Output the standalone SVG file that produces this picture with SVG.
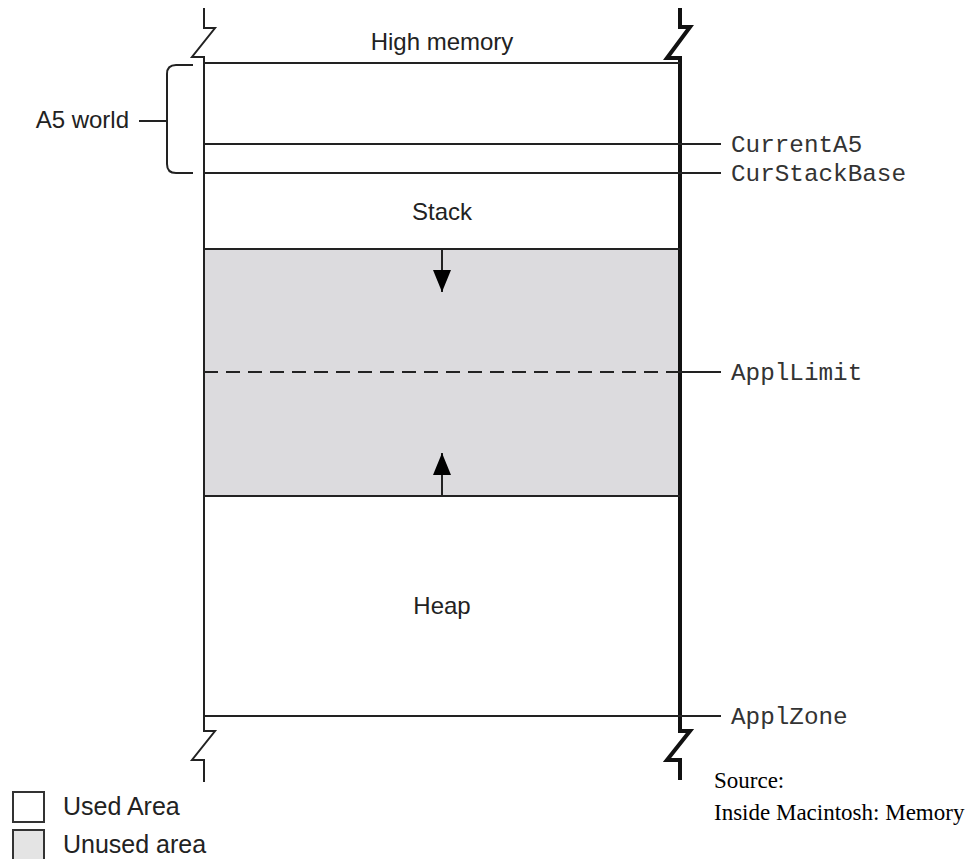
<svg xmlns="http://www.w3.org/2000/svg" width="976" height="859" viewBox="0 0 976 859">
  <defs>
    <style>
      .sans{font-family:"Liberation Sans",Arial,sans-serif;font-size:24px;fill:#222}
      .key{font-size:25px}
      .mono{font-family:"Liberation Mono","Courier New",monospace;font-size:24.3px;fill:#333}
      .serif{font-family:"Liberation Serif","Times New Roman",serif;font-size:23px;fill:#000}
      .rule{stroke:#222;stroke-width:2;fill:none}
      .wall{stroke:#111;stroke-width:4;fill:none;stroke-linejoin:miter}
      .dash{stroke:#222;stroke-width:2;stroke-dasharray:14 8;fill:none}
      .box{stroke:#333;stroke-width:2}
    </style>
    <marker id="head" viewBox="0 0 22 18" refX="22" refY="9" markerWidth="22" markerHeight="18" markerUnits="userSpaceOnUse" orient="auto">
      <path d="M0,0 L22,9 L0,18 z" fill="#000"/>
    </marker>
  </defs>

  <rect width="976" height="859" fill="#fff"/>

  <!-- memory column: free space between stack and heap -->
  <g id="free-space">
    <rect x="204" y="249" width="476" height="247" fill="#dcdbde"/>
  </g>

  <!-- column walls with break marks -->
  <g id="walls">
    <path class="rule" d="M204,8 V28 H215 L192,57 H204 V731 H215 L192,760 H204 V782"/>
    <path class="wall" d="M680,8 V27 H690 L667,58 H680 V731 H690 L667,760 H680 V780"/>
  </g>

  <g id="high-memory">
    <text class="sans" x="442" y="50" text-anchor="middle">High memory</text>
    <line class="rule" x1="204" y1="63" x2="680" y2="63"/>
  </g>

  <g id="a5-world">
    <path class="rule" d="M193,65 H176 Q167,65 167,74 V164 Q167,173 176,173 H193"/>
    <line class="rule" x1="139" y1="121" x2="167" y2="121"/>
    <text class="sans" x="129" y="128" text-anchor="end">A5 world</text>
  </g>

  <g id="stack">
    <text class="sans" x="442" y="220" text-anchor="middle">Stack</text>
  </g>

  <g id="heap">
    <text class="sans" x="442" y="614" text-anchor="middle">Heap</text>
  </g>

  <!-- boundaries and pointer labels -->
  <g id="connectors">
    <line class="rule" x1="204" y1="144" x2="721" y2="144"/>
    <line class="rule" x1="204" y1="173" x2="721" y2="173"/>
    <line class="rule" x1="204" y1="249" x2="680" y2="249"/>
    <line class="dash" x1="204" y1="372" x2="680" y2="372"/>
    <line class="rule" x1="680" y1="372" x2="721" y2="372"/>
    <line class="rule" x1="204" y1="496" x2="680" y2="496"/>
    <line class="rule" x1="204" y1="716" x2="721" y2="716"/>
    <line class="rule" x1="442" y1="249" x2="442" y2="292" marker-end="url(#head)"/>
    <line class="rule" x1="442" y1="496" x2="442" y2="453" marker-end="url(#head)"/>
  </g>

  <g id="labels">
    <text class="mono" x="731" y="152">CurrentA5</text>
    <text class="mono" x="731" y="181">CurStackBase</text>
    <text class="mono" x="731" y="380">ApplLimit</text>
    <text class="mono" x="731" y="724">ApplZone</text>
  </g>

  <g id="legend">
    <rect class="box" x="13" y="792" width="31" height="30" fill="#fff"/>
    <text class="sans key" x="63" y="815">Used Area</text>
    <rect class="box" x="13" y="830" width="31" height="30" fill="#e4e4e4"/>
    <text class="sans key" x="63" y="853">Unused area</text>
  </g>

  <g id="source">
    <text class="serif" x="714" y="788">Source:</text>
    <text class="serif" x="714" y="820">Inside Macintosh: Memory</text>
  </g>
</svg>
